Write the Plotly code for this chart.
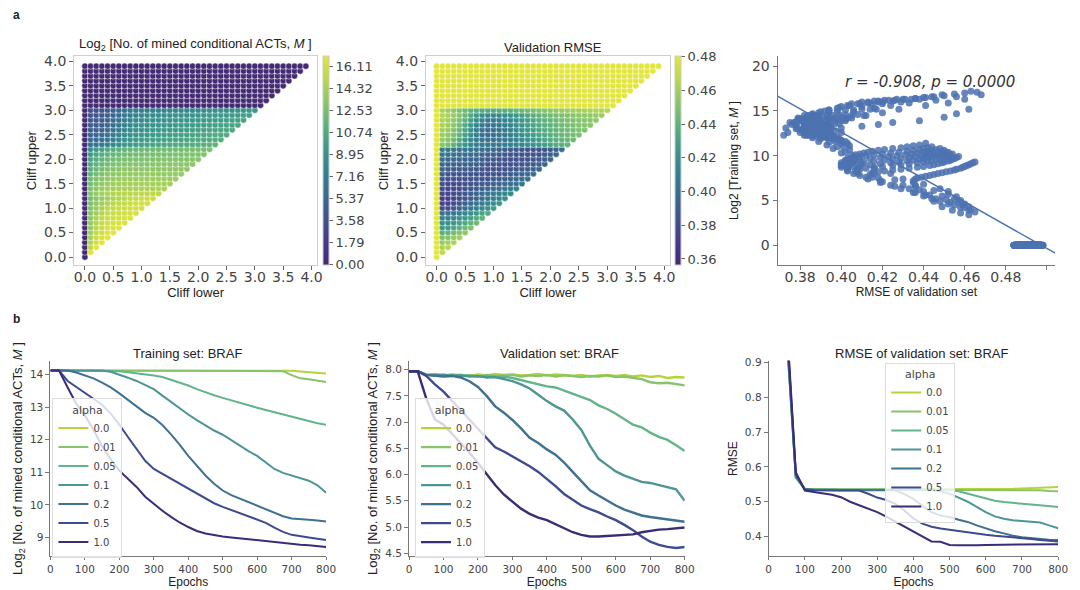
import numpy as np
import plotly.graph_objects as go

# cliff thresholds (same for lower and upper)
CLIFF = [round(0.1 * k, 1) for k in range(40)]

# log2 of mined conditional ACTs; row j = cliff upper CLIFF[j], entries for cliff lower 0..CLIFF[j]
M_ROWS = [
    "0",
    "0 16.8",
    "0 15.2 17.1",
    "0 14.7 16.3 17.2",
    "0 14.3 15.9 16.6 17.0",
    "0 13.9 15.6 16.2 16.7 16.9",
    "0 13.7 15.2 15.9 16.3 16.6 16.8",
    "0 13.5 14.8 15.6 16.0 16.3 16.5 16.6",
    "0 13.3 14.5 15.3 15.8 16.1 16.3 16.4 16.5",
    "0 13.1 14.1 14.9 15.5 15.8 16.0 16.2 16.3 16.4",
    "0 12.9 13.8 14.5 15.1 15.5 15.8 16.0 16.1 16.2 16.3",
    "0 12.6 13.5 14.1 14.6 15.0 15.3 15.6 15.8 16.0 16.1 16.2",
    "0 12.3 13.1 13.7 14.1 14.5 14.8 15.1 15.4 15.6 15.8 15.9 16.0",
    "0 13.0 13.7 14.2 14.5 14.7 14.9 14.9 15.0 15.1 15.1 15.2 15.2 15.2",
    "0 12.6 13.3 13.8 14.1 14.3 14.4 14.5 14.5 14.5 14.6 14.6 14.5 14.6 14.5",
    "0 12.3 13.0 13.5 13.8 14.0 14.1 14.2 14.2 14.2 14.3 14.2 14.2 14.3 14.2 14.2",
    "0 12.0 12.7 13.2 13.5 13.7 13.8 13.9 13.9 13.9 14.0 13.9 13.9 14.0 13.9 13.9 13.9",
    "0 11.6 12.3 12.8 13.1 13.3 13.5 13.6 13.6 13.6 13.7 13.6 13.7 13.6 13.6 13.7 13.6 13.6",
    "0 11.2 11.9 12.4 12.7 13.0 13.2 13.3 13.3 13.3 13.4 13.3 13.4 13.3 13.4 13.3 13.3 13.4 13.3",
    "0 10.8 11.5 12.0 12.3 12.6 12.8 12.9 13.0 13.0 13.0 13.1 13.1 13.1 13.1 13.1 13.2 13.1 13.2 13.2",
    "0 10.3 11.0 11.6 12.0 12.2 12.4 12.6 12.6 12.7 12.7 12.8 12.8 12.8 12.9 12.9 12.9 12.9 13.0 13.0 13.0",
    "0 9.6 10.4 11.0 11.4 11.7 11.9 12.1 12.2 12.3 12.3 12.4 12.4 12.5 12.5 12.6 12.6 12.6 12.7 12.7 12.8 12.8",
    "0 8.6 9.4 10.1 10.7 11.1 11.4 11.6 11.7 11.8 11.9 12.0 12.1 12.1 12.2 12.2 12.3 12.3 12.4 12.4 12.5 12.5 12.6",
    "0 6.0 6.3 6.8 7.4 8.0 8.6 9.1 9.4 9.7 9.9 10.1 10.2 10.3 10.4 10.5 10.6 10.7 10.8 10.9 11.0 11.1 11.2 11.4",
    "0 5.4 5.7 6.1 6.6 7.3 8.0 8.6 9.0 9.3 9.5 9.7 9.8 9.9 10.0 10.1 10.2 10.3 10.4 10.5 10.6 10.7 10.8 10.9 11.0",
    "0 5.0 5.2 5.5 6.0 6.7 7.5 8.2 8.7 9.0 9.2 9.4 9.5 9.6 9.7 9.8 9.9 10.0 10.1 10.2 10.3 10.4 10.5 10.6 10.7 10.8",
    "0 4.6 4.8 5.1 5.6 6.3 7.1 7.8 8.3 8.7 8.9 9.1 9.2 9.3 9.4 9.5 9.6 9.7 9.8 9.9 10.0 10.1 10.2 10.3 10.4 10.5 10.6",
    "0 4.3 4.5 4.8 5.2 5.9 6.7 7.4 8.0 8.4 8.6 8.8 8.9 9.0 9.1 9.2 9.3 9.4 9.5 9.6 9.7 9.8 9.9 10.0 10.1 10.2 10.3 10.4",
    "0 4.0 4.2 4.5 4.9 5.5 6.3 7.0 7.6 8.0 8.3 8.5 8.6 8.7 8.8 8.9 9.0 9.1 9.2 9.3 9.4 9.5 9.6 9.7 9.8 9.9 10.0 10.1 10.2",
    "0 3.7 3.9 4.2 4.6 5.2 5.9 6.6 7.2 7.6 7.9 8.1 8.2 8.3 8.4 8.5 8.6 8.7 8.8 8.9 9.0 9.1 9.2 9.3 9.4 9.5 9.6 9.7 9.8 9.9",
    "0 3.4 3.6 3.9 4.3 4.9 5.6 6.2 6.7 7.0 7.2 7.4 7.5 7.6 7.7 7.8 7.9 8.0 8.1 8.2 8.3 8.4 8.5 8.6 8.7 8.8 8.9 9.0 9.1 9.2 9.3",
    "0 0 0 0 0 0 0 0  0 0 0 0 0 0 0 0  0 0 0 0 0 0 0 0  0 0 0 0 0 0 0 0",
    "0 0 0 0 0 0 0 0  0 0 0 0 0 0 0 0  0 0 0 0 0 0 0 0  0 0 0 0 0 0 0 0  0",
    "0 0 0 0 0 0 0 0  0 0 0 0 0 0 0 0  0 0 0 0 0 0 0 0  0 0 0 0 0 0 0 0  0 0",
    "0 0 0 0 0 0 0 0  0 0 0 0 0 0 0 0  0 0 0 0 0 0 0 0  0 0 0 0 0 0 0 0  0 0 0",
    "0 0 0 0 0 0 0 0  0 0 0 0 0 0 0 0  0 0 0 0 0 0 0 0  0 0 0 0 0 0 0 0  0 0 0 0",
    "0 0 0 0 0 0 0 0  0 0 0 0 0 0 0 0  0 0 0 0 0 0 0 0  0 0 0 0 0 0 0 0  0 0 0 0 0",
    "0 0 0 0 0 0 0 0  0 0 0 0 0 0 0 0  0 0 0 0 0 0 0 0  0 0 0 0 0 0 0 0  0 0 0 0 0 0",
    "0 0 0 0 0 0 0 0  0 0 0 0 0 0 0 0  0 0 0 0 0 0 0 0  0 0 0 0 0 0 0 0  0 0 0 0 0 0 0",
    "0 0 0 0 0 0 0 0  0 0 0 0 0 0 0 0  0 0 0 0 0 0 0 0  0 0 0 0 0 0 0 0  0 0 0 0 0 0 0 0",
]

# validation RMSE on the same grid
RMSE_ROWS = [
    ".492",
    ".489 .468",
    ".494 .462 .466",
    ".487 .456 .460 .463",
    ".491 .450 .452 .456 .460",
    ".488 .438 .441 .446 .450 .455",
    ".495 .425 .428 .433 .438 .444 .449",
    ".490 .418 .420 .424 .429 .434 .440 .445",
    ".486 .410 .412 .416 .420 .425 .430 .436 .441",
    ".493 .400 .402 .406 .410 .415 .420 .426 .431 .436",
    ".489 .380 .383 .388 .394 .400 .405 .410 .416 .421 .427",
    ".497 .374 .376 .380 .386 .392 .398 .403 .408 .413 .418 .423",
    ".488 .372 .373 .375 .379 .384 .389 .394 .399 .404 .409 .413 .418",
    ".492 .378 .377 .379 .382 .386 .390 .394 .398 .402 .406 .410 .414 .417",
    ".485 .380 .378 .378 .380 .383 .386 .389 .393 .396 .399 .402 .405 .408 .411",
    ".494 .382 .379 .378 .379 .381 .383 .385 .387 .389 .391 .394 .397 .400 .403 .405",
    ".490 .386 .383 .382 .382 .383 .384 .385 .384 .385 .387 .389 .391 .394 .397 .400 .402",
    ".487 .389 .386 .385 .385 .385 .385 .384 .383 .382 .383 .385 .387 .389 .391 .394 .397 .399",
    ".496 .393 .390 .389 .389 .389 .388 .387 .385 .383 .382 .383 .384 .385 .386 .388 .390 .393 .395",
    ".491 .396 .394 .393 .393 .393 .392 .391 .389 .386 .384 .383 .382 .383 .384 .385 .387 .389 .391 .394",
    ".486 .400 .398 .397 .396 .396 .395 .394 .392 .389 .387 .385 .383 .382 .382 .383 .384 .386 .388 .391 .395",
    ".493 .404 .402 .401 .400 .400 .399 .398 .396 .393 .391 .389 .387 .385 .383 .382 .382 .383 .385 .388 .392 .397",
    ".489 .408 .406 .405 .404 .404 .403 .402 .400 .398 .396 .394 .392 .390 .388 .386 .384 .383 .383 .385 .389 .394 .400",
    ".495 .452 .448 .440 .430 .424 .416 .410 .407 .406 .406 .407 .409 .411 .413 .415 .418 .421 .425 .429 .432 .435 .438 .441",
    ".488 .456 .452 .445 .436 .426 .416 .408 .404 .402 .402 .403 .406 .409 .412 .416 .420 .424 .428 .432 .435 .438 .440 .442 .444",
    ".492 .458 .455 .449 .440 .430 .418 .408 .403 .400 .400 .402 .405 .409 .414 .419 .423 .427 .431 .434 .437 .440 .442 .444 .446 .448",
    ".497 .460 .457 .451 .443 .433 .420 .409 .403 .400 .400 .402 .406 .411 .416 .421 .425 .429 .433 .436 .439 .441 .443 .445 .447 .449 .450",
    ".490 .462 .459 .453 .446 .436 .424 .413 .406 .403 .403 .405 .409 .414 .419 .424 .428 .432 .435 .438 .440 .442 .444 .446 .448 .450 .451 .452",
    ".486 .463 .460 .455 .448 .440 .429 .419 .412 .408 .407 .409 .412 .416 .420 .425 .429 .433 .437 .440 .442 .444 .446 .448 .449 .451 .452 .453 .454",
    ".494 .465 .462 .458 .452 .444 .435 .426 .419 .415 .414 .415 .418 .421 .425 .429 .433 .437 .440 .443 .445 .447 .449 .450 .452 .453 .454 .455 .456 .457",
    ".489 .462 .458 .454 .449 .445 .441 .438 .436 .435 .435 .436 .437 .439 .441 .443 .445 .447 .449 .451 .453 .455 .456 .458 .459 .460 .461 .462 .463 .464 .465",
    ".491 .486 .494 .488 .497 .485 .490 .493  .487 .496 .489 .484 .492 .495 .488 .491  .486 .498 .490 .487 .493 .485 .489 .496  .492 .488 .494 .486 .491 .497 .489 .493",
    ".488 .495 .490 .486 .493 .489 .497 .484  .491 .487 .494 .490 .485 .496 .492 .488  .493 .486 .490 .498 .487 .491 .494 .489  .485 .492 .496 .488 .490 .487 .493 .495  .489",
    ".493 .487 .491 .496 .485 .490 .494 .488  .497 .489 .486 .492 .495 .488 .491 .484  .490 .493 .487 .496 .489 .492 .486 .494  .488 .491 .497 .485 .490 .493 .487 .492  .496 .489",
    ".486 .492 .489 .495 .488 .491 .497 .485  .493 .490 .487 .494 .489 .496 .486 .491  .492 .488 .495 .484 .490 .493 .487 .498  .489 .491 .486 .494 .490 .488 .493 .496  .487 .491 .489",
    ".494 .489 .486 .492 .497 .488 .490 .485  .493 .491 .487 .495 .489 .492 .486 .496  .490 .488 .494 .485 .491 .493 .487 .489  .496 .490 .484 .492 .488 .495 .491 .487  .493 .489 .490 .486",
    ".489 .493 .487 .491 .496 .485 .490 .494  .488 .492 .486 .497 .489 .491 .493 .487  .490 .495 .488 .484 .492 .489 .496 .491  .487 .493 .490 .486 .494 .488 .491 .497  .489 .492 .486 .490 .493",
    ".492 .486 .490 .495 .488 .493 .487 .491  .496 .489 .485 .492 .490 .494 .488 .491  .487 .493 .489 .497 .486 .490 .492 .488  .495 .491 .484 .489 .493 .487 .490 .496  .488 .492 .489 .494 .486 .491",
    ".487 .491 .494 .489 .485 .492 .496 .488  .490 .493 .486 .491 .497 .489 .487 .494  .492 .488 .490 .485 .493 .491 .496 .489  .486 .492 .488 .495 .490 .487 .493 .489  .491 .496 .488 .490 .494 .487 .492",
    ".495 .488 .492 .486 .490 .497 .489 .493  .487 .491 .494 .488 .485 .492 .490 .496  .489 .493 .486 .491 .488 .495 .490 .487  .492 .489 .494 .486 .491 .497 .488 .490  .493 .487 .491 .489 .496 .488 .492 .490",
]

EPOCHS = [0, 25, 50, 75, 100, 125, 150, 175, 200, 225, 250, 275, 300, 325, 350, 375, 400,
          425, 450, 475, 500, 525, 550, 575, 600, 625, 650, 675, 700, 725, 750, 775, 800]
ALPHAS = ["0.0", "0.01", "0.05", "0.1", "0.2", "0.5", "1.0"]
COLORS = ["#b5d43b", "#86c36a", "#62b589", "#4e9596", "#3f7190", "#3e4b91", "#3b2c78"]

TRAIN = {
    "0.0": [14.12, 14.12, 14.12, 14.12, 14.12, 14.12, 14.12, 14.12, 14.12, 14.12, 14.12,
            14.12, 14.12, 14.12, 14.12, 14.12, 14.12, 14.12, 14.12, 14.12, 14.12, 14.12,
            14.12, 14.12, 14.12, 14.12, 14.12, 14.12, 14.11, 14.09, 14.07, 14.05, 14.03],
    "0.01": [14.12, 14.12, 14.12, 14.12, 14.12, 14.12, 14.12, 14.12, 14.12, 14.12, 14.12,
             14.12, 14.12, 14.12, 14.12, 14.12, 14.12, 14.12, 14.12, 14.12, 14.12, 14.12,
             14.12, 14.12, 14.12, 14.12, 14.12, 14.10, 13.98, 13.88, 13.85, 13.82, 13.77],
    "0.05": [14.12, 14.12, 14.12, 14.12, 14.12, 14.12, 14.12, 14.12, 14.10, 14.07, 14.04,
             14.01, 13.97, 13.92, 13.84, 13.76, 13.66, 13.55, 13.45, 13.36, 13.28, 13.20,
             13.12, 13.05, 12.98, 12.91, 12.84, 12.77, 12.70, 12.62, 12.55, 12.50, 12.46],
    "0.1": [14.12, 14.12, 14.12, 14.12, 14.12, 14.12, 14.12, 14.08, 14.00, 13.90, 13.80,
            13.68, 13.55, 13.35, 13.15, 12.95, 12.77, 12.60, 12.43, 12.28, 12.15, 11.98,
            11.80, 11.65, 11.50, 11.30, 11.10, 10.98, 10.90, 10.82, 10.74, 10.60, 10.37],
    "0.2": [14.12, 14.12, 14.12, 14.06, 13.98, 13.88, 13.75, 13.60, 13.42, 13.22, 13.02,
            12.82, 12.67, 12.45, 12.16, 11.85, 11.50, 11.20, 10.90, 10.65, 10.44, 10.30,
            10.19, 10.08, 9.98, 9.85, 9.74, 9.65, 9.58, 9.55, 9.54, 9.52, 9.49],
    "0.5": [14.12, 14.12, 13.80, 13.62, 13.45, 13.27, 13.07, 12.80, 12.46, 12.08, 11.70,
            11.35, 11.10, 10.95, 10.80, 10.65, 10.50, 10.35, 10.19, 10.05, 9.94, 9.84,
            9.74, 9.64, 9.53, 9.45, 9.30, 9.17, 9.08, 9.03, 9.00, 8.96, 8.92],
    "1.0": [14.12, 14.12, 13.60, 13.10, 12.75, 12.30, 11.80, 11.40, 11.05, 10.80, 10.55,
            10.25, 10.02, 9.82, 9.63, 9.46, 9.32, 9.20, 9.12, 9.07, 9.03, 9.00,
            8.97, 8.94, 8.92, 8.88, 8.85, 8.82, 8.80, 8.78, 8.76, 8.73, 8.71],
}

VALID = {
    "0.0": [7.97, 7.97, 7.90, 7.92, 7.89, 7.91, 7.90, 7.88, 7.91, 7.89, 7.92, 7.90, 7.91,
            7.89, 7.90, 7.92, 7.89, 7.91, 7.90, 7.88, 7.90, 7.87, 7.89, 7.90, 7.88, 7.90,
            7.87, 7.89, 7.86, 7.88, 7.84, 7.86, 7.85],
    "0.01": [7.97, 7.97, 7.90, 7.89, 7.91, 7.88, 7.90, 7.89, 7.87, 7.90, 7.88, 7.89, 7.90,
             7.87, 7.89, 7.88, 7.90, 7.87, 7.89, 7.88, 7.86, 7.88, 7.87, 7.89, 7.86, 7.87,
             7.85, 7.82, 7.76, 7.74, 7.75, 7.72, 7.70],
    "0.05": [7.97, 7.97, 7.90, 7.91, 7.89, 7.90, 7.88, 7.89, 7.87, 7.88, 7.86, 7.87, 7.84,
             7.80, 7.76, 7.73, 7.68, 7.66, 7.60, 7.55, 7.48, 7.42, 7.32, 7.25, 7.16, 7.05,
             6.95, 6.90, 6.80, 6.72, 6.66, 6.56, 6.45],
    "0.1": [7.97, 7.97, 7.90, 7.89, 7.90, 7.88, 7.89, 7.87, 7.88, 7.85, 7.86, 7.82, 7.78,
            7.72, 7.64, 7.52, 7.40, 7.30, 7.22, 7.05, 6.85, 6.55, 6.30, 6.18, 6.06, 5.98,
            5.92, 5.86, 5.84, 5.80, 5.76, 5.72, 5.50],
    "0.2": [7.97, 7.97, 7.90, 7.88, 7.87, 7.88, 7.85, 7.78, 7.67, 7.50, 7.30, 7.18, 7.04,
            6.88, 6.70, 6.60, 6.48, 6.38, 6.23, 6.05, 5.87, 5.70, 5.60, 5.50, 5.41, 5.33,
            5.28, 5.22, 5.19, 5.17, 5.14, 5.12, 5.10],
    "0.5": [7.97, 7.97, 7.88, 7.72, 7.58, 7.40, 7.23, 7.06, 6.86, 6.68, 6.52, 6.44, 6.35,
            6.25, 6.16, 6.05, 5.92, 5.78, 5.63, 5.52, 5.41, 5.34, 5.28, 5.20, 5.13, 5.04,
            4.94, 4.82, 4.72, 4.66, 4.62, 4.60, 4.62],
    "1.0": [7.97, 7.97, 7.45, 7.05, 6.95, 6.78, 6.60, 6.42, 6.22, 6.00, 5.80, 5.62, 5.48,
            5.35, 5.25, 5.18, 5.13, 5.05, 4.98, 4.90, 4.85, 4.82, 4.82, 4.83, 4.84, 4.84,
            4.86, 4.90, 4.93, 4.95, 4.96, 4.97, 4.99],
}

RMSE_CURVES = {
    "0.0": [1.6, 1.3, 0.97, 0.57, 0.537, 0.536, 0.536, 0.535, 0.535, 0.535, 0.535, 0.535,
            0.535, 0.535, 0.535, 0.535, 0.535, 0.535, 0.535, 0.535, 0.535, 0.535, 0.535,
            0.536, 0.536, 0.536, 0.537, 0.537, 0.538, 0.539, 0.540, 0.541, 0.542],
    "0.01": [1.6, 1.3, 0.97, 0.57, 0.537, 0.536, 0.536, 0.535, 0.535, 0.535, 0.535, 0.535,
             0.535, 0.535, 0.535, 0.535, 0.535, 0.535, 0.535, 0.535, 0.535, 0.535, 0.535,
             0.535, 0.535, 0.535, 0.535, 0.535, 0.535, 0.534, 0.533, 0.531, 0.530],
    "0.05": [1.6, 1.3, 0.98, 0.57, 0.537, 0.536, 0.536, 0.535, 0.535, 0.535, 0.535, 0.535,
             0.535, 0.535, 0.535, 0.535, 0.535, 0.535, 0.535, 0.535, 0.535, 0.530, 0.523,
             0.515, 0.508, 0.503, 0.499, 0.496, 0.494, 0.492, 0.490, 0.487, 0.485],
    "0.1": [1.6, 1.3, 0.98, 0.57, 0.536, 0.535, 0.534, 0.534, 0.534, 0.534, 0.534, 0.534,
            0.534, 0.534, 0.534, 0.534, 0.534, 0.534, 0.534, 0.530, 0.523, 0.512, 0.500,
            0.485, 0.470, 0.458, 0.451, 0.447, 0.445, 0.443, 0.440, 0.432, 0.424],
    "0.2": [1.6, 1.3, 0.99, 0.575, 0.536, 0.534, 0.533, 0.533, 0.533, 0.533, 0.533, 0.533,
            0.533, 0.533, 0.533, 0.522, 0.508, 0.488, 0.470, 0.460, 0.456, 0.448, 0.442,
            0.432, 0.423, 0.415, 0.409, 0.402, 0.398, 0.395, 0.393, 0.391, 0.390],
    "0.5": [1.6, 1.3, 1.0, 0.58, 0.535, 0.533, 0.532, 0.532, 0.532, 0.532, 0.532, 0.523,
            0.512, 0.505, 0.494, 0.475, 0.452, 0.437, 0.428, 0.423, 0.419, 0.415, 0.412,
            0.408, 0.405, 0.402, 0.400, 0.399, 0.397, 0.393, 0.390, 0.388, 0.386],
    "1.0": [1.6, 1.3, 1.02, 0.585, 0.532, 0.528, 0.525, 0.520, 0.513, 0.500, 0.490, 0.480,
            0.470, 0.457, 0.443, 0.428, 0.414, 0.400, 0.386, 0.385, 0.376, 0.375, 0.374,
            0.375, 0.376, 0.376, 0.377, 0.376, 0.377, 0.377, 0.378, 0.378, 0.378],
}

M_TICKS = [0.00, 1.79, 3.58, 5.37, 7.16, 8.95, 10.74, 12.53, 14.32, 16.11]
RMSE_TICKS = [0.36, 0.38, 0.40, 0.42, 0.44, 0.46, 0.48]

# flatten the triangular grids
lower, upper, m_vals, rmse_vals = [], [], [], []
for j, (mrow, rrow) in enumerate(zip(M_ROWS, RMSE_ROWS)):
    mv = [float(v) for v in mrow.split()]
    rv = [float(v) for v in rrow.split()]
    assert len(mv) == j + 1 and len(rv) == j + 1, j
    for i in range(j + 1):
        lower.append(CLIFF[i])
        upper.append(CLIFF[j])
        m_vals.append(mv[i])
        rmse_vals.append(rv[i])

W, H = 1080, 590
TICK_FONT = dict(family="DejaVu Sans", color="#444444")
LABEL_FONT = dict(family="Liberation Sans", color="#222222")

# viridis as it appears in the printed figure (slightly washed out)
WASHED_VIRIDIS = [[0.0, "#432a72"], [0.11, "#47398a"], [0.22, "#40528c"], [0.33, "#386a8f"],
                  [0.44, "#32818e"], [0.56, "#3a9a89"], [0.67, "#5cb27b"], [0.78, "#8ac766"],
                  [0.89, "#bbd84a"], [1.0, "#e2e53a"]]


def px_x(a, b):
    return [a / W, b / W]


def px_y(top, bottom):
    return [1 - bottom / H, 1 - top / H]


fig = go.Figure()

common_marker = dict(size=6.3, colorscale=WASHED_VIRIDIS, line=dict(color="white", width=0.5))
cbar = dict(xanchor="left", xpad=0, ypad=0, y=1 - 263 / H, yanchor="bottom", len=212 / H,
            thickness=6, outlinecolor="#cccccc", outlinewidth=1, ticks="outside", ticklen=4,
            tickcolor="#666666", tickfont=dict(TICK_FONT, size=13))

fig.add_trace(go.Scatter(
    x=lower, y=upper, mode="markers", xaxis="x", yaxis="y", showlegend=False,
    marker=dict(common_marker, color=m_vals, cmin=0, cmax=17.0,
                colorbar=dict(cbar, x=324 / W, tickvals=M_TICKS,
                              ticktext=[f"{t:.2f}" for t in M_TICKS])),
))

fig.add_trace(go.Scatter(
    x=lower, y=upper, mode="markers", xaxis="x2", yaxis="y2", showlegend=False,
    marker=dict(common_marker, color=rmse_vals, cmin=0.3565, cmax=0.4805,
                colorbar=dict(cbar, x=680 / W, tickvals=RMSE_TICKS,
                              ticktext=[f"{t:.2f}" for t in RMSE_TICKS])),
))

# scatter of training-set M versus validation RMSE, with least-squares line
SC_XRANGE = [0.369, 0.504]
fig.add_trace(go.Scatter(
    x=rmse_vals, y=m_vals, mode="markers", xaxis="x3", yaxis="y3", showlegend=False,
    marker=dict(size=7, color="#4c72b0", opacity=0.85),
))
coef = np.polyfit(rmse_vals, m_vals, 1)
fig.add_trace(go.Scatter(
    x=SC_XRANGE, y=np.polyval(coef, SC_XRANGE), mode="lines", xaxis="x3", yaxis="y3",
    showlegend=False, line=dict(color="#4c72b0", width=1.4),
))

for k, a in enumerate(ALPHAS):
    fig.add_trace(go.Scatter(x=EPOCHS, y=TRAIN[a], mode="lines", name=a, xaxis="x4", yaxis="y4",
                             legend="legend", line=dict(color=COLORS[k], width=2)))
    fig.add_trace(go.Scatter(x=EPOCHS, y=VALID[a], mode="lines", name=a, xaxis="x5", yaxis="y5",
                             legend="legend2", line=dict(color=COLORS[k], width=2.4)))
    fig.add_trace(go.Scatter(x=EPOCHS, y=RMSE_CURVES[a], mode="lines", name=a, xaxis="x6",
                             yaxis="y6", legend="legend3", line=dict(color=COLORS[k], width=2)))


def box_axis(domain, anchor, rng, tickvals, title, standoff, **kw):
    return dict(domain=domain, anchor=anchor, range=rng, tickvals=tickvals, showgrid=False,
                zeroline=False, showline=True, mirror=True, linecolor="#cfcfcf", linewidth=1,
                ticks="outside", ticklen=4, tickcolor="#666666",
                tickfont=dict(TICK_FONT, size=14),
                title=dict(text=title, font=dict(LABEL_FONT, size=13), standoff=standoff), **kw)


def open_axis(domain, anchor, rng, tickvals, title, standoff, size, ticklen=4, tsize=12, **kw):
    return dict(domain=domain, anchor=anchor, range=rng, tickvals=tickvals, showgrid=False,
                zeroline=False, showline=True, linecolor="#777777", linewidth=1,
                ticks="outside", ticklen=ticklen, tickcolor="#777777",
                tickfont=dict(TICK_FONT, size=size),
                title=dict(text=title, font=dict(LABEL_FONT, size=tsize), standoff=standoff), **kw)


half = [0.0, 0.5, 1.0, 1.5, 2.0, 2.5, 3.0, 3.5, 4.0]
ep_ticks = [0, 100, 200, 300, 400, 500, 600, 700, 800]
ylab_m = "Log<sub>2</sub> [No. of mined conditional ACTs, <i>M</i> ]"

legend_base = dict(xanchor="left", yanchor="top", bgcolor="rgba(255,255,255,0.8)",
                   bordercolor="#dddddd", borderwidth=1, tracegroupgap=0, itemwidth=30,
                   font=dict(TICK_FONT, size=10),
                   title=dict(text="alpha", side="top center", font=dict(TICK_FONT, size=11)))

fig.update_layout(
    width=W, height=H, margin=dict(l=0, r=0, t=0, b=0),
    paper_bgcolor="white", plot_bgcolor="white",
    font=dict(family="DejaVu Sans", color="#333333"),
    xaxis=box_axis(px_x(72, 318), "y", [-0.19, 4.1], half, "Cliff lower", 0, tickformat=".1f",
                   ticklabelstandoff=-5),
    yaxis=box_axis(px_y(52, 263), "x", [-0.16, 4.1], half, "Cliff upper", 4, tickformat=".1f"),
    xaxis2=box_axis(px_x(428, 675), "y2", [-0.19, 4.1], half, "Cliff lower", 0, tickformat=".1f",
                    ticklabelstandoff=-5),
    yaxis2=box_axis(px_y(52, 263), "x2", [-0.16, 4.1], half, "Cliff upper", 4, tickformat=".1f"),
    xaxis3=open_axis(px_x(784, 1065), "y3", SC_XRANGE, [0.38, 0.40, 0.42, 0.44, 0.46, 0.48, 0.50],
                     "RMSE of validation set", 0, 14, ticklabelstandoff=-5,
                     ticktext=["0.38", "0.40", "0.42", "0.44", "0.46", "0.48", ""]),
    yaxis3=open_axis(px_y(52, 263), "x3", [-2.2, 21.1], [0, 5, 10, 15, 20],
                     "Log2 [Training set, <i>M</i> ]", 10, 14),
    xaxis4=open_axis(px_x(48, 327), "y4", [0, 800], ep_ticks, "Epochs", 0, 10.5, ticklen=3),
    yaxis4=open_axis(px_y(360, 558), "x4", [8.42, 14.42], [9, 10, 11, 12, 13, 14], ylab_m, 4,
                     10.5, tsize=13),
    xaxis5=open_axis(px_x(411, 690), "y5", [0, 800], ep_ticks, "Epochs", 0, 10.5, ticklen=3),
    yaxis5=open_axis(px_y(360, 558), "x5", [4.44, 8.17],
                     [4.5, 5.0, 5.5, 6.0, 6.5, 7.0, 7.5, 8.0], ylab_m, 4, 10.5, tsize=13,
                     tickformat=".1f"),
    xaxis6=open_axis(px_x(775, 1068), "y6", [0, 800], ep_ticks, "Epochs", 0, 10.5, ticklen=3),
    yaxis6=open_axis(px_y(360, 558), "x6", [0.343, 0.905], [0.4, 0.5, 0.6, 0.7, 0.8, 0.9],
                     "RMSE", 4, 10.5, tickformat=".1f"),
    legend=dict(legend_base, x=50 / W, y=1 - 398 / H),
    legend2=dict(legend_base, x=417 / W, y=1 - 398 / H),
    legend3=dict(legend_base, x=893 / W, y=1 - 362 / H),
)

annotations = [
    ("<b>a</b>", 8, 10, 12, LABEL_FONT, "left"),
    ("<b>b</b>", 8, 318, 12, LABEL_FONT, "left"),
    ("Log<sub>2</sub> [No. of mined conditional ACTs, <i>M</i> ]", 195, 40, 13, LABEL_FONT, "center"),
    ("Validation RMSE", 557, 43, 13, LABEL_FONT, "center"),
    ("<i>r = -0.908, p = 0.0000</i>", 938, 78, 15, dict(family="DejaVu Sans", color="#333333"), "center"),
    ("Training set: BRAF", 187, 353, 13, LABEL_FONT, "center"),
    ("Validation set: BRAF", 563, 353, 13, LABEL_FONT, "center"),
    ("RMSE of validation set: BRAF", 930, 353, 13, LABEL_FONT, "center"),
]
for text, x, y, size, font, anchor in annotations:
    fig.add_annotation(text=text, x=x / W, y=1 - y / H, xref="paper", yref="paper",
                       xanchor=anchor, yanchor="middle", showarrow=False,
                       font=dict(font, size=size))

# drop the browser's default 8px body margin so the figure sits at the window origin
fig.write_html("out.html", config={"displayModeBar": False},
               post_script="document.body.style.margin='0px';")
